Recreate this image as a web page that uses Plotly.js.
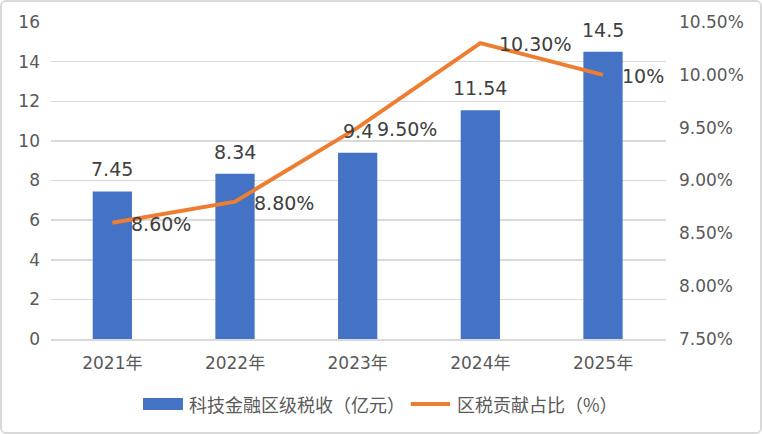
<!DOCTYPE html>
<html><head><meta charset="utf-8">
<script src="https://cdn.plot.ly/plotly-3.0.1.min.js"></script>
<style>
html,body{margin:0;padding:0;background:#fff;}
#wrap{width:762px;height:434px;box-sizing:border-box;border:2px solid #d9d9d9;border-radius:6px;overflow:hidden;}
#chart{width:758px;height:430px;}
</style></head><body>
<div id="wrap"><div id="chart"></div></div>
<script>
const categories = ["2021年","2022年","2023年","2024年","2025年"];
const taxRevenue = [7.45, 8.34, 9.4, 11.54, 14.5];
const taxLabels = ["7.45","8.34","9.4","11.54","14.5"];
const shareRatio = [8.6, 8.8, 9.5, 10.3, 10.0];
const shareLabels = ["8.60%","8.80%","9.50%","10.30%","10%"];
const leftTicks = [0,2,4,6,8,10,12,14,16];
const rightTicks = [7.5,8.0,8.5,9.0,9.5,10.0,10.5];
const rightTickText = ["7.50%","8.00%","8.50%","9.00%","9.50%","10.00%","10.50%"];
const seriesNames = ["科技金融区级税收（亿元）","区税贡献占比（%）"];

const FONT = "DejaVu Sans, Noto Sans CJK SC, sans-serif";
const CJK = "Noto Sans CJK SC, sans-serif";
const BLUE = "#4472C4", ORANGE = "#ED7D31";
const traces = [
  {type:"bar", x:categories, y:taxRevenue, name:seriesNames[0],
   marker:{color:BLUE}, width:0.32, hoverinfo:"skip"},
  {type:"scatter", mode:"lines", x:categories, y:shareRatio, yaxis:"y2",
   name:seriesNames[1], line:{color:ORANGE, width:4}, hoverinfo:"skip"}
];
const annotations = [];
categories.forEach((c,i)=>{
  annotations.push({x:c, y:taxRevenue[i], xref:"x", yref:"y", text:taxLabels[i],
    showarrow:false, yanchor:"middle", yshift:22, font:{family:FONT,size:19,color:"#404040"}});
  annotations.push({x:c, y:shareRatio[i], xref:"x", yref:"y2", text:shareLabels[i],
    showarrow:false, xanchor:"left", yanchor:"middle", xshift:17, yshift:-1, font:{family:FONT,size:19,color:"#404040"}});
});
// custom legend
const LY = -0.205;
annotations.push({xref:"paper", yref:"paper", x:0.221, y:LY, xanchor:"left", yanchor:"middle",
  text:seriesNames[0], showarrow:false, font:{family:CJK,size:18,color:"#595959"}});
annotations.push({xref:"paper", yref:"paper", x:0.657, y:LY, xanchor:"left", yanchor:"middle",
  text:seriesNames[1], showarrow:false, font:{family:CJK,size:18,color:"#595959"}});
const shapes = [
  {type:"rect", xref:"paper", yref:"paper", x0:0.1496, x1:0.2146, y0:-0.186, y1:-0.224,
   fillcolor:BLUE, line:{width:0}},
  {type:"line", xref:"paper", yref:"paper", x0:0.585, x1:0.649, y0:LY, y1:LY,
   line:{color:ORANGE, width:4}}
];
const layout = {
  width:758, height:430,
  margin:{l:49, r:94, t:20, b:93},
  paper_bgcolor:"#fff", plot_bgcolor:"#fff",
  font:{family:FONT, color:"#595959"},
  showlegend:false,
  xaxis:{type:"category", showgrid:false, showline:true, linecolor:"#d9d9d9", linewidth:1.5,
    ticks:"", ticklabelstandoff:8, tickfont:{family:FONT,size:17,color:"#595959"}, fixedrange:true},
  yaxis:{range:[0,16], tickvals:leftTicks, showgrid:true, gridcolor:"#d9d9d9", gridwidth:1.5,
    zeroline:false, showline:false, ticks:"", ticklabelstandoff:10,
    tickfont:{family:FONT,size:17,color:"#595959"}, fixedrange:true},
  yaxis2:{overlaying:"y", side:"right", range:[7.5,10.5], tickvals:rightTicks, ticktext:rightTickText,
    showgrid:false, zeroline:false, showline:false, ticks:"", ticklabelstandoff:12,
    tickfont:{family:FONT,size:17,color:"#595959"}, fixedrange:true},
  annotations:annotations,
  shapes:shapes,
  bargap:0.68
};
Plotly.newPlot("chart", traces, layout, {displayModeBar:false, staticPlot:true});
</script>
</body></html>
